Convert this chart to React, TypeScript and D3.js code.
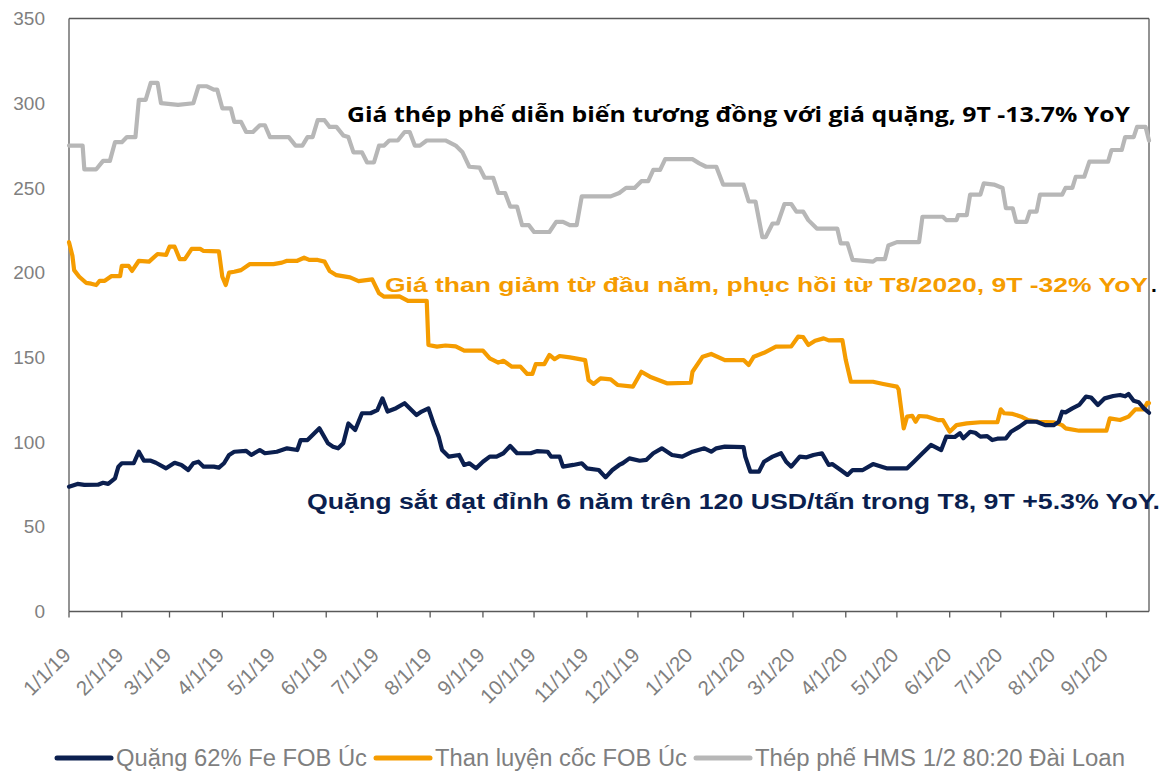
import React from "react";
import * as d3 from "d3";

type Pt = [string, number];

const oreSeries: Pt[] = [
["19-01-01",73.7],["19-01-06",75.3],["19-01-10",74.7],["19-01-18",74.8],["19-01-21",76],["19-01-24",75.3],["19-01-28",78.6],["19-01-30",85.5],["19-02-01",87.5],["19-02-08",87.5],["19-02-11",94.3],["19-02-14",89],["19-02-18",89],["19-02-21",87.8],["19-02-27",84.5],["19-03-04",87.8],["19-03-08",86.5],["19-03-12",83.5],["19-03-15",87.5],["19-03-18",88.4],["19-03-21",85.5],["19-03-27",85.5],["19-03-30",84.9],["19-04-02",87.5],["19-04-05",92.4],["19-04-08",94.3],["19-04-15",94.8],["19-04-18",92.4],["19-04-23",95.3],["19-04-26",93.4],["19-05-03",94.3],["19-05-09",96.3],["19-05-15",95.3],["19-05-17",101.2],["19-05-21",101.2],["19-05-24",104.2],["19-05-28",108.1],["19-06-02",99.3],["19-06-05",97.3],["19-06-08",96.3],["19-06-11",99.3],["19-06-14",111],["19-06-18",107.1],["19-06-22",117],["19-06-27",117],["19-07-01",118.9],["19-07-04",125.8],["19-07-07",118],["19-07-12",120],["19-07-17",122.9],["19-07-24",116],["19-07-27",118],["19-07-31",119.9],["19-08-03",111],["19-08-06",103.2],["19-08-08",95.3],["19-08-12",91.4],["19-08-18",92.4],["19-08-21",86.5],["19-08-24",87.5],["19-08-28",84.5],["19-09-01",88.4],["19-09-05",91.4],["19-09-09",91.4],["19-09-13",93.4],["19-09-17",97.7],["19-09-21",93.4],["19-09-29",93.4],["19-10-03",94.7],["19-10-09",94.3],["19-10-11",91.4],["19-10-16",91.4],["19-10-18",85.5],["19-10-24",86.5],["19-10-29",87.5],["19-11-01",84.5],["19-11-08",83.5],["19-11-12",79.2],["19-11-16",83.5],["19-11-20",86.5],["19-11-22",87.5],["19-11-26",90.4],["19-12-02",89],["19-12-06",89.5],["19-12-10",93.4],["19-12-15",96.3],["19-12-21",92.4],["19-12-27",91.4],["20-01-02",94.3],["20-01-09",96.3],["20-01-13",94.3],["20-01-16",96.3],["20-01-21",97.3],["20-02-01",97],["20-02-02",91.4],["20-02-05",82.5],["20-02-10",82.5],["20-02-13",88.4],["20-02-18",91.4],["20-02-23",93.4],["20-02-26",88.4],["20-02-29",85.5],["20-03-05",91.4],["20-03-09",91],["20-03-13",92.4],["20-03-18",93.4],["20-03-22",86.5],["20-03-24",87],["20-03-29",83.5],["20-04-02",80.6],["20-04-05",83.5],["20-04-11",83.5],["20-04-17",87],["20-04-23",85.1],["20-04-25",84.5],["20-05-07",84.5],["20-05-11",88.4],["20-05-16",93.4],["20-05-21",98.3],["20-05-27",95.3],["20-05-30",103.2],["20-06-04",103],["20-06-07",105.2],["20-06-09",102.2],["20-06-13",106.1],["20-06-16",105.5],["20-06-19",103.2],["20-06-23",103.5],["20-06-26",101.2],["20-06-29",102],["20-07-04",102.2],["20-07-07",106.1],["20-07-12",109.1],["20-07-16",112],["20-07-22",112],["20-07-27",110],["20-08-01",110],["20-08-04",112],["20-08-06",117.9],["20-08-08",117.5],["20-08-12",119.9],["20-08-16",121.9],["20-08-20",126.8],["20-08-23",126.3],["20-08-27",121.9],["20-08-31",125.8],["20-09-05",127.2],["20-09-09",127.8],["20-09-12",127],["20-09-14",128.4],["20-09-17",124.4],["20-09-20",123.5],["20-09-23",119.9],["20-09-26",117.3]
];

const coalSeries: Pt[] = [
["19-01-01",218],["19-01-03",210],["19-01-04",201.5],["19-01-07",197.6],["19-01-11",194],["19-01-14",193.5],["19-01-17",192.7],["19-01-19",195.2],["19-01-22",195.2],["19-01-26",198],["19-01-31",198],["19-02-01",204],["19-02-05",204],["19-02-07",201],["19-02-11",207],["19-02-17",206.5],["19-02-22",211],["19-02-27",210.5],["19-03-01",215.3],["19-03-04",215.3],["19-03-07",208],["19-03-10",208],["19-03-14",214],["19-03-19",214],["19-03-21",212.8],["19-03-30",212.5],["19-04-01",197.6],["19-04-03",192.7],["19-04-05",200],["19-04-08",200.5],["19-04-12",201.5],["19-04-17",205],["19-05-01",205],["19-05-06",205.9],["19-05-09",207],["19-05-15",207],["19-05-19",208.8],["19-05-22",207.5],["19-05-27",207.5],["19-05-31",206.5],["19-06-03",201],["19-06-07",198.5],["19-06-15",197.2],["19-06-20",195],["19-06-28",196],["19-07-02",187.8],["19-07-05",185.8],["19-07-14",186],["19-07-19",183.3],["19-07-30",183.3],["19-07-31",157.3],["19-08-05",156.3],["19-08-10",157],["19-08-16",156.5],["19-08-21",154],["19-09-01",154],["19-09-05",149.4],["19-09-10",146.9],["19-09-13",148],["19-09-18",144.5],["19-09-23",144.5],["19-09-27",140.2],["19-09-30",140.2],["19-10-02",146],["19-10-07",146],["19-10-10",151.4],["19-10-13",148.9],["19-10-16",150.8],["19-10-22",150],["19-10-31",148.4],["19-11-02",136.6],["19-11-05",134.3],["19-11-09",137.6],["19-11-15",137],["19-11-19",133.7],["19-11-28",132.7],["19-12-03",141.5],["19-12-08",138.6],["19-12-18",134.7],["20-01-01",135],["20-01-02",141.5],["20-01-08",150.4],["20-01-13",152],["20-01-21",148.4],["20-02-01",148.4],["20-02-04",145.5],["20-02-07",150.4],["20-02-13",152.7],["20-02-20",156.3],["20-02-29",156.5],["20-03-04",162.2],["20-03-07",162],["20-03-10",157.3],["20-03-14",159.8],["20-03-19",161.2],["20-03-22",160],["20-03-30",160.2],["20-04-01",148.4],["20-04-04",135.6],["20-04-17",135.6],["20-04-23",134.3],["20-05-01",132.7],["20-05-02",131.1],["20-05-05",108.1],["20-05-07",115],["20-05-10",115.5],["20-05-12",112],["20-05-14",115.4],["20-05-19",115],["20-05-25",113],["20-05-28",113],["20-06-01",106.1],["20-06-05",110],["20-06-11",111],["20-06-19",111.7],["20-06-29",111.7],["20-07-01",119.3],["20-07-03",117],["20-07-08",116.6],["20-07-13",115],["20-07-17",113],["20-07-23",112],["20-08-01",111.7],["20-08-06",110],["20-08-08",108.1],["20-08-16",106.7],["20-09-01",106.7],["20-09-03",114],["20-09-09",113],["20-09-14",115],["20-09-18",119.3],["20-09-23",119.3],["20-09-25",123.2],["20-09-26",123]
];

const scrapSeries: Pt[] = [
["19-01-01",275],["19-01-09",275],["19-01-10",261],["19-01-17",261],["19-01-21",266],["19-01-25",266],["19-01-28",277],["19-02-01",277],["19-02-04",280],["19-02-09",280],["19-02-11",302],["19-02-15",302],["19-02-18",312],["19-02-22",312],["19-02-24",300],["19-03-06",299],["19-03-15",300],["19-03-18",310],["19-03-23",310],["19-03-27",308],["19-03-29",308],["19-04-01",297],["19-04-06",297],["19-04-08",289],["19-04-12",289],["19-04-15",283],["19-04-19",283],["19-04-23",287],["19-04-26",287],["19-04-29",280],["19-05-10",280],["19-05-14",275],["19-05-18",275],["19-05-21",280],["19-05-24",280],["19-05-27",290],["19-05-31",290],["19-06-03",286],["19-06-07",286],["19-06-11",281],["19-06-14",280],["19-06-17",271],["19-06-22",271],["19-06-25",265],["19-06-29",265],["19-07-02",275],["19-07-05",275],["19-07-08",278],["19-07-13",278],["19-07-17",283],["19-07-20",283],["19-07-23",275],["19-07-26",275],["19-07-30",278],["19-08-10",278],["19-08-16",275],["19-08-20",271],["19-08-24",262.5],["19-08-30",262],["19-09-02",256],["19-09-07",256],["19-09-10",247],["19-09-14",247],["19-09-17",239],["19-09-21",239],["19-09-24",228],["19-09-28",228],["19-10-01",224],["19-10-10",224],["19-10-14",230],["19-10-18",230],["19-10-22",228],["19-10-26",228],["19-10-29",245],["19-11-15",245],["19-11-20",247],["19-11-24",250],["19-11-29",250],["19-12-03",254],["19-12-07",254],["19-12-10",260.6],["19-12-14",260.6],["19-12-17",267],["20-01-02",267],["20-01-06",264.5],["20-01-10",262.5],["20-01-16",262.5],["20-01-20",252],["20-02-01",252],["20-02-04",242],["20-02-08",242],["20-02-12",221],["20-02-14",221],["20-02-18",229],["20-02-21",229],["20-02-25",240.5],["20-02-29",240.5],["20-03-03",236],["20-03-07",236],["20-03-10",231],["20-03-15",226],["20-03-27",226],["20-03-29",217.3],["20-04-02",217.3],["20-04-05",207.5],["20-04-17",206.5],["20-04-19",208],["20-04-24",208],["20-04-26",216],["20-05-01",218],["20-05-14",218],["20-05-16",233],["20-05-28",233],["20-05-30",231],["20-06-05",231],["20-06-06",234],["20-06-11",234],["20-06-13",246],["20-06-19",246],["20-06-21",252.7],["20-06-27",252],["20-07-02",250],["20-07-04",238],["20-07-08",238],["20-07-10",230],["20-07-16",230],["20-07-18",236],["20-07-22",236],["20-07-24",246],["20-08-06",246],["20-08-08",250],["20-08-12",250],["20-08-14",256.6],["20-08-19",256.6],["20-08-22",265.5],["20-09-02",265.5],["20-09-04",272.4],["20-09-10",272.4],["20-09-12",280],["20-09-17",280],["20-09-19",286],["20-09-24",286],["20-09-26",278]
];

const yTicks = [0, 50, 100, 150, 200, 250, 300, 350];
const xStart = "19-01-01";
const xEnd = "20-09-26";

const seriesNames = ["Quặng 62% Fe FOB Úc", "Than luyện cốc FOB Úc", "Thép phế HMS 1/2 80:20 Đài Loan"];
const seriesColors = ["#0B1F4F", "#F59C00", "#B7B7B7"];

const noteScrap = "Giá thép phế diễn biến tương đồng với giá quặng, 9T -13.7% YoY";
const noteCoal = "Giá than giảm từ đầu năm, phục hồi từ T8/2020, 9T -32% YoY";
const noteOre = "Quặng sắt đạt đỉnh 6 năm trên 120 USD/tấn trong T8, 9T +5.3% YoY.";

const parse = d3.timeParse("%y-%m-%d");
const fmt = d3.timeFormat("%-m/%-d/%y");

export default function App() {
  const left = 69, right = 1149, top = 18.5, bottom = 611.5;
  const x = d3.scaleTime().domain([parse(xStart)!, parse(xEnd)!]).range([left, right]);
  const y = d3.scaleLinear().domain([0, 350]).range([bottom, top]);
  const line = d3.line<Pt>().x(d => x(parse(d[0])!)).y(d => y(d[1]));
  const months = d3.timeMonth.range(parse(xStart)!, parse(xEnd)!);
  const axisColor = "#595959";
  const labelColor = "#7F7F7F";
  const all = [oreSeries, coalSeries, scrapSeries];
  const legendX = [57, 376, 696];
  const legendTextW = [251, 252, 370];

  return (
    <svg width={1163} height={771} style={{ position: "absolute", left: 0, top: 0, background: "#fff" }}
      fontFamily="'Liberation Sans', Arial, sans-serif">
      <rect x={0} y={0} width={1163} height={771} fill="#fff" />
      {/* plot frame */}
      <line x1={left} x2={right} y1={top} y2={top} stroke={axisColor} strokeWidth={1.3} />
      <line x1={right} x2={right} y1={top} y2={bottom} stroke={axisColor} strokeWidth={1.3} />
      <line x1={left} x2={left} y1={top} y2={bottom} stroke={axisColor} strokeWidth={1.3} />
      <line x1={left} x2={right} y1={bottom} y2={bottom} stroke={axisColor} strokeWidth={1.3} />
      {months.map((m, i) => (
        <line key={i} x1={x(m)} x2={x(m)} y1={bottom} y2={bottom + 6} stroke={axisColor} strokeWidth={1.3} />
      ))}
      {yTicks.map(t => (
        <text key={t} x={45} y={y(t)} dy="0.35em" textAnchor="end" fontSize={19} fill={labelColor}>{t}</text>
      ))}
      {months.map((m, i) => (
        <text key={i} transform={`translate(${x(m) + 3},${bottom + 45}) rotate(-45)`} textAnchor="end"
          fontSize={20.5} fill={labelColor}>{fmt(m)}</text>
      ))}
      {/* series */}
      {[2, 1, 0].map(i => (
        <path key={i} d={line(all[i]) || ""} fill="none" stroke={seriesColors[i]} strokeWidth={4.2}
          strokeLinejoin="round" strokeLinecap="round" />
      ))}
      {/* annotations */}
      <text x={347} y={122} fontFamily="'Open Sans', sans-serif" fontWeight={700} fontSize={21}
        fill="#000" textLength={783} lengthAdjust="spacingAndGlyphs">{noteScrap}</text>
      <text x={385} y={292} fontWeight={700} fontSize={21} fill={seriesColors[1]}
        textLength={763} lengthAdjust="spacingAndGlyphs">{noteCoal}</text>
      <text x={1151} y={292} fontWeight={700} fontSize={21} fill="#000">.</text>
      <text x={307} y={509} fontWeight={700} fontSize={22} fill={seriesColors[0]}
        textLength={853} lengthAdjust="spacingAndGlyphs">{noteOre}</text>
      {/* legend */}
      {seriesNames.map((n, i) => (
        <g key={i}>
          <line x1={legendX[i]} x2={legendX[i] + 54} y1={758} y2={758} stroke={seriesColors[i]} strokeWidth={5}
            strokeLinecap="round" />
          <text x={legendX[i] + 59} y={758} dy="0.35em" fontSize={23.5} fill={labelColor}
            textLength={legendTextW[i]} lengthAdjust="spacingAndGlyphs">{n}</text>
        </g>
      ))}
    </svg>
  );
}
